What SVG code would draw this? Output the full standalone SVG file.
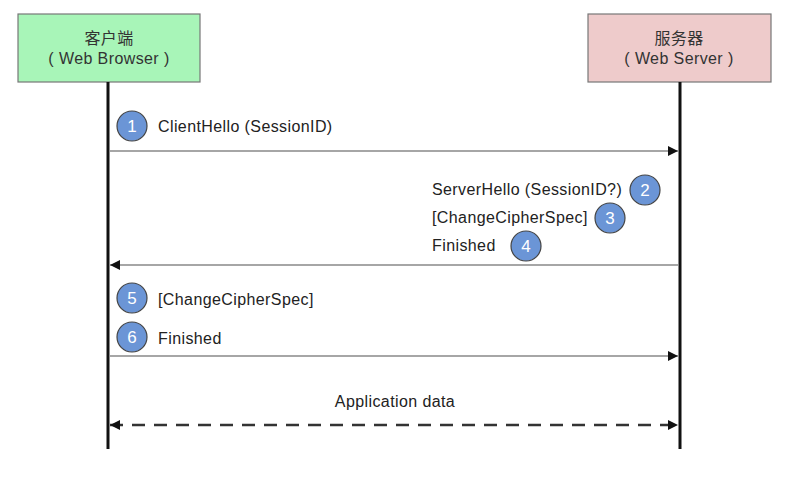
<svg xmlns="http://www.w3.org/2000/svg" width="803" height="479" viewBox="0 0 803 479">
<style>
.t{font-family:"Liberation Sans","Noto Sans CJK SC",sans-serif;font-size:16px;letter-spacing:0.4px;fill:#222}
.h{font-family:"Liberation Sans","Noto Sans CJK SC",sans-serif;font-size:16px;letter-spacing:0.4px;fill:#333;text-anchor:middle}
.life{stroke:#111;stroke-width:3}
.msg{stroke:#888;stroke-width:1.5;fill:none}
.c circle{fill:#6b95d6;stroke:#444;stroke-width:1.2}
.c text{font-family:"Liberation Sans",sans-serif;font-size:17px;fill:#fff;text-anchor:middle}
</style>
<defs>
<marker id="ah" viewBox="0 0 10 10" refX="10" refY="5" markerWidth="10" markerHeight="10" markerUnits="userSpaceOnUse" orient="auto-start-reverse">
<path d="M0,0 L10,5 L0,10 z" fill="#111"/>
</marker>
</defs>
<rect width="803" height="479" fill="#fff"/>
<g id="client">
<rect x="18" y="14" width="182" height="68" fill="#a8f5b8" stroke="#777" stroke-width="1.2"/>
<text class="h" x="109" y="44">客户端</text>
<text class="h" x="109" y="64">( Web Browser )</text>
</g>
<g id="server">
<rect x="588" y="14" width="183" height="68" fill="#eecbcb" stroke="#777" stroke-width="1.2"/>
<text class="h" x="679" y="44">服务器</text>
<text class="h" x="679" y="64">( Web Server )</text>
</g>
<g id="lifelines">
<line class="life" x1="108" y1="82" x2="108" y2="449"/>
<line class="life" x1="680" y1="82" x2="680" y2="449"/>
</g>
<g id="connectors">
<line class="msg" x1="109" y1="151" x2="678" y2="151" marker-end="url(#ah)"/>
<line class="msg" x1="679" y1="265" x2="110" y2="265" marker-end="url(#ah)"/>
<line class="msg" x1="109" y1="356" x2="678" y2="356" marker-end="url(#ah)"/>
<line x1="110" y1="425" x2="678" y2="425" stroke="#333" stroke-width="2.5" stroke-dasharray="13 9" marker-start="url(#ah)" marker-end="url(#ah)"/>
</g>
<g id="labels">
<text class="t" x="158" y="132">ClientHello (SessionID)</text>
<text class="t" x="432" y="195">ServerHello (SessionID?)</text>
<text class="t" x="432" y="223">[ChangeCipherSpec]</text>
<text class="t" x="432" y="251">Finished</text>
<text class="t" x="158" y="305">[ChangeCipherSpec]</text>
<text class="t" x="158" y="344">Finished</text>
<text class="t" x="395" y="407" text-anchor="middle">Application data</text>
</g>
<g id="steps" class="c">
<g id="s1"><circle cx="132" cy="126" r="15"/><text x="132" y="132">1</text></g>
<g id="s2"><circle cx="645" cy="190" r="15"/><text x="645" y="196">2</text></g>
<g id="s3"><circle cx="610" cy="218" r="15"/><text x="610" y="224">3</text></g>
<g id="s4"><circle cx="526" cy="246" r="15"/><text x="526" y="252">4</text></g>
<g id="s5"><circle cx="132" cy="298" r="15"/><text x="132" y="304">5</text></g>
<g id="s6"><circle cx="132" cy="337" r="15"/><text x="132" y="343">6</text></g>
</g>
</svg>
